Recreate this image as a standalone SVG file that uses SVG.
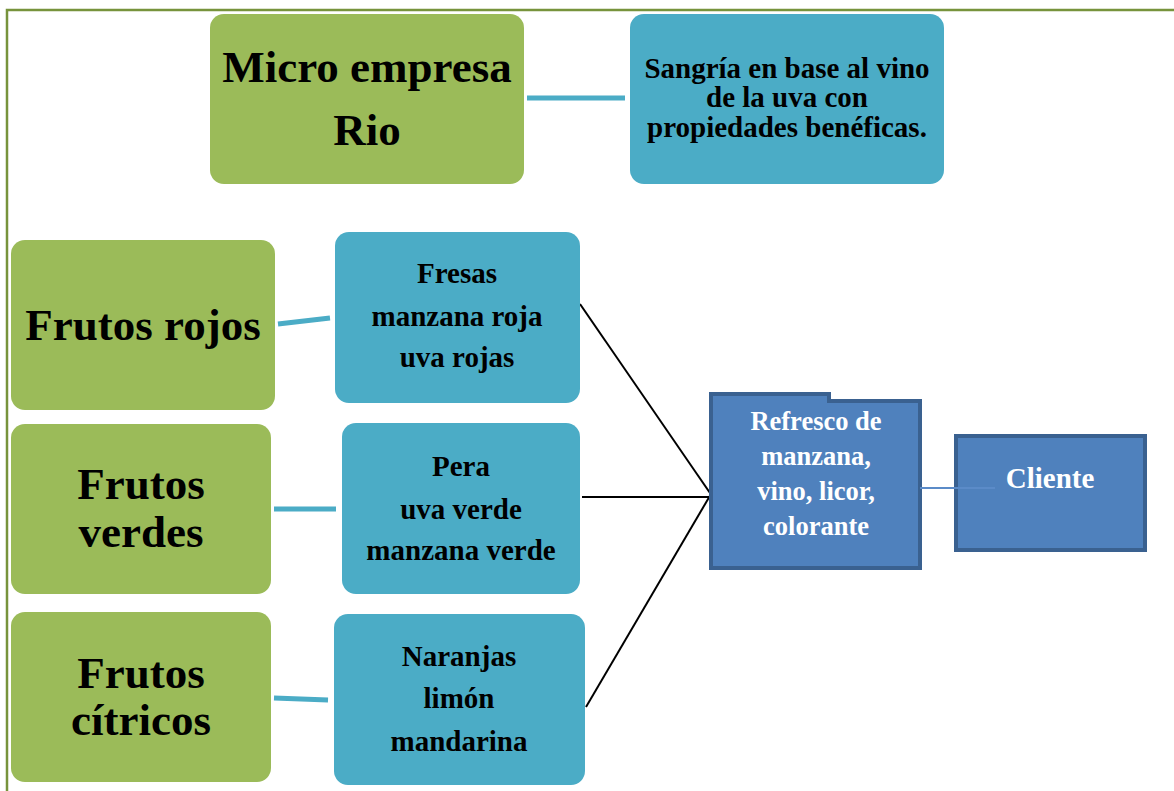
<svg xmlns="http://www.w3.org/2000/svg" width="1174" height="791" viewBox="0 0 1174 791">
<style>
.g{fill:#9bbb59}
.b{fill:#4bacc6}
.d{fill:#4f81bd;stroke:#3a6190;stroke-width:4}
.t{font-family:"Liberation Serif","Times New Roman",serif;font-weight:bold;text-anchor:middle;fill:#000}
.w{fill:#fff}
.lb{stroke:#4bacc6;stroke-width:5;fill:none}
.lk{stroke:#000;stroke-width:2;fill:none}
</style>
<rect width="1174" height="791" fill="#fff"/>
<path d="M7 791 V10 H1174" fill="none" stroke="#77933c" stroke-width="2.5"/>
<g id="connectors">
<line class="lb" x1="527" y1="98" x2="625" y2="98"/>
<line class="lb" x1="278" y1="324" x2="330" y2="318"/>
<line class="lb" x1="274" y1="509" x2="336" y2="509"/>
<line class="lb" x1="274" y1="698" x2="328" y2="700"/>
<line class="lk" x1="580" y1="304" x2="710" y2="493"/>
<line class="lk" x1="582" y1="497" x2="713" y2="497"/>
<line class="lk" x1="586" y1="707" x2="711" y2="494"/>
</g>
<g id="micro">
<rect class="g" x="210" y="14" width="314" height="170" rx="14"/>
<text class="t" font-size="45" x="367" y="82">Micro empresa</text>
<text class="t" font-size="45" x="367" y="145">Rio</text>
</g>
<g id="sangria">
<rect class="b" x="630" y="14" width="314" height="170" rx="14"/>
<text class="t" font-size="29" x="787" y="78">Sangría en base al vino</text>
<text class="t" font-size="29" x="787" y="107">de la uva con</text>
<text class="t" font-size="29" x="787" y="137">propiedades benéficas.</text>
</g>
<g id="rojos">
<rect class="g" x="11" y="240" width="264" height="170" rx="14"/>
<text class="t" font-size="45" x="143" y="340">Frutos rojos</text>
</g>
<g id="fresas">
<rect class="b" x="335" y="232" width="245" height="171" rx="14"/>
<text class="t" font-size="29" x="457" y="283">Fresas</text>
<text class="t" font-size="29" x="457" y="326">manzana roja</text>
<text class="t" font-size="29" x="457" y="367">uva rojas</text>
</g>
<g id="verdes">
<rect class="g" x="11" y="424" width="260" height="170" rx="14"/>
<text class="t" font-size="45" x="141" y="499">Frutos</text>
<text class="t" font-size="45" x="141" y="547">verdes</text>
</g>
<g id="pera">
<rect class="b" x="342" y="423" width="238" height="171" rx="14"/>
<text class="t" font-size="29" x="461" y="476">Pera</text>
<text class="t" font-size="29" x="461" y="519">uva verde</text>
<text class="t" font-size="29" x="461" y="560">manzana verde</text>
</g>
<g id="citricos">
<rect class="g" x="11" y="612" width="260" height="170" rx="14"/>
<text class="t" font-size="45" x="141" y="688">Frutos</text>
<text class="t" font-size="45" x="141" y="735">cítricos</text>
</g>
<g id="naranjas">
<rect class="b" x="334" y="614" width="251" height="171" rx="14"/>
<text class="t" font-size="29" x="459" y="666">Naranjas</text>
<text class="t" font-size="29" x="459" y="708">limón</text>
<text class="t" font-size="29" x="459" y="751">mandarina</text>
</g>
<g id="refresco">
<path class="d" d="M711 394 H829 V401 H920 V568 H711 Z"/>
<text class="t w" font-size="26.5" x="816" y="430">Refresco de</text>
<text class="t w" font-size="26.5" x="816" y="465">manzana,</text>
<text class="t w" font-size="26.5" x="816" y="500">vino, licor,</text>
<text class="t w" font-size="26.5" x="816" y="535">colorante</text>
</g>
<g id="cliente">
<rect class="d" x="956" y="436" width="189" height="114"/>
<text class="t w" font-size="29" x="1050" y="488">Cliente</text>
</g>
<line x1="920" y1="488" x2="995" y2="488" stroke="#5b8bc8" stroke-width="2"/>
</svg>
